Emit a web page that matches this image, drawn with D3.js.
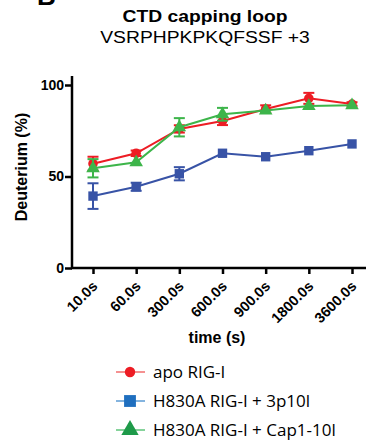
<!DOCTYPE html>
<html>
<head>
<meta charset="utf-8">
<script src="https://cdn.jsdelivr.net/npm/d3@7"></script>
<style>
body { margin: 0; background: #fff; }
svg { display: block; font-family: "Liberation Sans", Arial, sans-serif; }
.axis line { stroke: #000; stroke-width: 2.5; }
.axis text { font-weight: bold; font-size: 14px; fill: #000; }
</style>
</head>
<body>
<svg class="chart"></svg>
<script>
// data
var times = ['10.0s', '60.0s', '300.0s', '600.0s', '900.0s', '1800.0s', '3600.0s'];
var yTicks = [0, 50, 100];

var apoMean = [57, 62.7, 76, 80.3, 86.9, 92.7, 89.6];
var apoErr = [3.8, 1.5, 2, 2.2, 2, 3, 1];
var h3pMean = [39.3, 44.4, 51.5, 62.7, 60.8, 64.1, 67.8];
var h3pErr = [7, 2.2, 3.6, 0, 0, 0, 0];
var capMean = [54.5, 57.8, 76.9, 84, 86, 88.5, 88.9];
var capErr = [5, 0, 5, 3.5, 0, 0, 0];

var names = ['apo RIG-I', 'H830A RIG-I + 3p10l', 'H830A RIG-I + Cap1-10l'];

var series = [
    { name: names[0], mean: apoMean, err: apoErr, color: '#ed1c24', legLine: '#f26d6d', legMark: '#ed1c24', shape: d3.symbolCircle, size: 72, legSize: 85 },
    { name: names[1], mean: h3pMean, err: h3pErr, color: '#3853a6', legLine: '#5b9bd5', legMark: '#1f6fbf', shape: d3.symbolSquare, size: 88, legSize: 140 },
    { name: names[2], mean: capMean, err: capErr, color: '#3db54a', legLine: '#5ec47a', legMark: '#1e9a49', shape: d3.symbolTriangle, size: 80, legSize: 130 }
];

var width = 366, height = 448;
var svg = d3.select('.chart').attr('width', width).attr('height', height);

// scales
var x = d3.scalePoint().domain(times).range([93, 352]);
var y = d3.scaleLinear().domain([0, 100]).range([268, 85]);

// panel letter (cut off at top, as in the figure)
svg.append('text')
    .attr('x', 37).attr('y', 5)
    .style('font-weight', 'bold').style('font-size', '26px')
    .text('B');

// titles (figure is slightly stretched horizontally)
svg.append('text')
    .attr('transform', 'translate(205,22) scale(1.17,1)')
    .attr('text-anchor', 'middle')
    .style('font-weight', 'bold').style('font-size', '16.5px')
    .text('CTD capping loop');
svg.append('text')
    .attr('transform', 'translate(205,43) scale(1.17,1)')
    .attr('text-anchor', 'middle')
    .style('font-size', '16.5px')
    .text('VSRPHPKPKQFSSF +3');

// y axis
var yAxis = d3.axisLeft(y).tickValues(yTicks).tickSize(7).tickPadding(1).tickSizeOuter(0);
svg.append('g').attr('class', 'y axis')
    .attr('transform', 'translate(72,0)')
    .call(yAxis)
    .call(function (g) { g.select('.domain').remove(); });
svg.append('line')
    .attr('x1', 72).attr('x2', 72).attr('y1', 76).attr('y2', 269)
    .attr('stroke', '#000').attr('stroke-width', 2.5);

// x axis
var xAxis = d3.axisBottom(x).tickSize(6).tickSizeOuter(0);
var gx = svg.append('g').attr('class', 'x axis')
    .attr('transform', 'translate(0,268)')
    .call(xAxis);
gx.select('.domain').remove();
gx.selectAll('text')
    .attr('text-anchor', 'end')
    .attr('dy', null).attr('y', 0)
    .attr('transform', 'translate(5,19) rotate(-45)')
    .style('font-size', '14.5px');
svg.append('line')
    .attr('x1', 71).attr('x2', 366).attr('y1', 268).attr('y2', 268)
    .attr('stroke', '#000').attr('stroke-width', 2.5);

// axis labels
svg.append('text')
    .attr('transform', 'translate(27,167) rotate(-90)')
    .attr('text-anchor', 'middle')
    .style('font-weight', 'bold').style('font-size', '16px')
    .text('Deuterium (%)');
svg.append('text')
    .attr('x', 217).attr('y', 343)
    .attr('text-anchor', 'middle')
    .style('font-weight', 'bold').style('font-size', '16px')
    .text('time (s)');

// series
var line = d3.line()
    .x(function (d, i) { return x(times[i]); })
    .y(function (d) { return y(d); });

series.forEach(function (s) {
    var g = svg.append('g');
    g.append('path')
        .datum(s.mean)
        .attr('fill', 'none')
        .attr('stroke', s.color)
        .attr('stroke-width', 2)
        .attr('d', line);

    // error bars
    s.mean.forEach(function (m, i) {
        if (!s.err[i]) return;
        var cx = x(times[i]);
        var top = y(m + s.err[i]), bot = y(m - s.err[i]);
        g.append('line').attr('x1', cx).attr('x2', cx).attr('y1', top).attr('y2', bot)
            .attr('stroke', s.color).attr('stroke-width', 2);
        g.append('line').attr('x1', cx - 5.5).attr('x2', cx + 5.5).attr('y1', top).attr('y2', top)
            .attr('stroke', s.color).attr('stroke-width', 2);
        g.append('line').attr('x1', cx - 5.5).attr('x2', cx + 5.5).attr('y1', bot).attr('y2', bot)
            .attr('stroke', s.color).attr('stroke-width', 2);
    });

    g.selectAll('.dot')
        .data(s.mean)
        .enter()
        .append('path')
        .attr('d', d3.symbol().type(s.shape).size(s.size))
        .attr('transform', function (d, i) { return 'translate(' + x(times[i]) + ',' + y(d) + ')'; })
        .attr('fill', s.color);
});

// legend
var legend = svg.append('g');
series.forEach(function (s, i) {
    var ly = 372 + i * 29;
    legend.append('line')
        .attr('x1', 116).attr('x2', 145).attr('y1', ly).attr('y2', ly)
        .attr('stroke', s.legLine).attr('stroke-width', 1.5);
    legend.append('path')
        .attr('d', d3.symbol().type(s.shape).size(s.legSize))
        .attr('transform', 'translate(130,' + ly + ')')
        .attr('fill', s.legMark);
    legend.append('text')
        .attr('x', 153).attr('y', ly + 6)
        .style('font-family', '"Open Sans", sans-serif')
        .style('font-size', '17px')
        .text(s.name);
});
</script>
</body>
</html>
